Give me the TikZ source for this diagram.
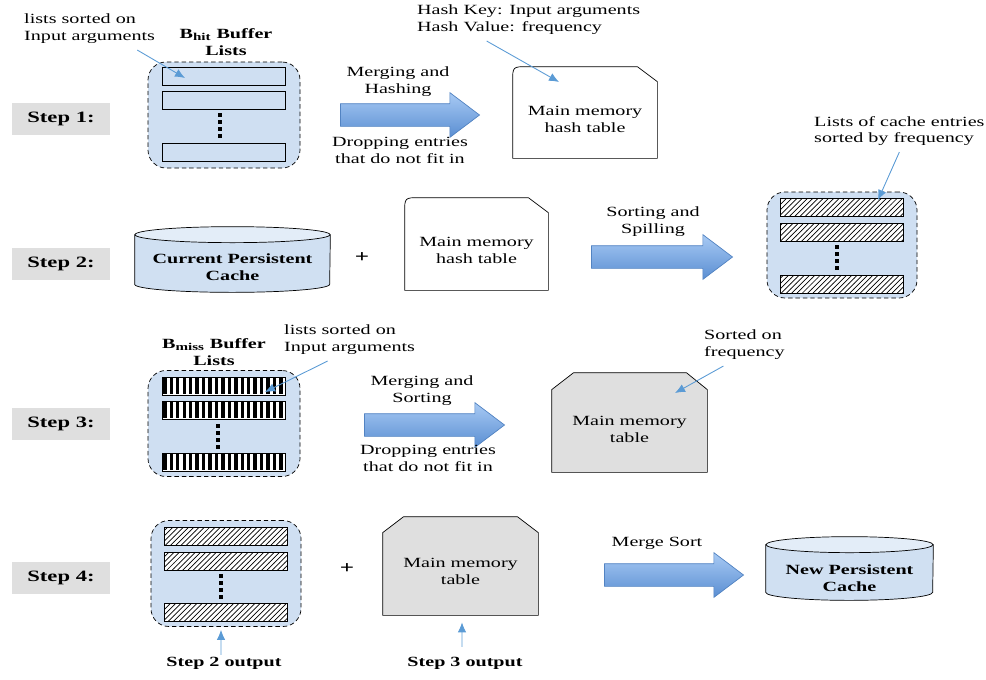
\documentclass[tikz,border=0pt]{standalone}
\usepackage{fontspec}
\setmainfont{Liberation Serif}[FakeStretch=1.43]
\usetikzlibrary{shapes.arrows, arrows.meta, calc, patterns, positioning}

\definecolor{bufblue}{HTML}{CFDFF2}
\definecolor{cacheblue}{HTML}{D0E0F2}
\definecolor{cachetop}{HTML}{E3EDF8}
\definecolor{tblgray}{HTML}{DFDFDF}
\definecolor{arrowtop}{HTML}{A8CAF4}
\definecolor{arrowbot}{HTML}{5A8ED2}
\definecolor{arrowline}{HTML}{5283C2}
\definecolor{callblue}{HTML}{5B9BD5}

\tikzstyle{steplbl} = [rectangle, minimum width=1.96cm, minimum height=0.64cm, fill=tblgray, font=\fontsize{9}{11}\selectfont\bfseries]
\tikzstyle{buffer} = [rectangle, rounded corners=0.36cm, draw=black, dash pattern=on 2.5pt off 1.7pt, fill=bufblue, minimum width=3.04cm, minimum height=2.12cm]
\tikzstyle{bar} = [rectangle, draw=black, minimum width=2.46cm, minimum height=0.36cm, inner sep=0pt]
\tikzstyle{hbar} = [bar, fill=white, postaction={pattern=north east lines}]
\tikzstyle{dotline} = [line width=0.07cm, dash pattern=on 0.08cm off 0.06cm]
\tikzstyle{cachebody} = [rectangle, inner sep=0pt]
\tikzstyle{bigarrow} = [single arrow, draw=arrowline, top color=arrowtop, bottom color=arrowbot, inner xsep=0pt, inner ysep=0.22cm, single arrow head extend=0.22cm, single arrow tip angle=74]
\tikzstyle{callout} = [draw=callblue, line width=0.5pt, -{Latex[length=0.2cm,width=0.17cm]}]
\tikzstyle{note} = [align=left, anchor=west]
\tikzstyle{txt} = [align=center]
\tikzstyle{boldtxt} = [align=center, font=\fontsize{8}{9.6}\selectfont\bfseries]

\begin{document}
\begin{tikzpicture}[x=0.2mm, y=-0.2mm, font=\fontsize{8}{9.6}\selectfont]
    \useasboundingbox (0,0) rectangle (986,679);

    \node (step1) [steplbl] at (61,119) {Step 1:};
    \node (step2) [steplbl] at (61,264) {Step 2:};
    \node (step3) [steplbl] at (61,424) {Step 3:};
    \node (step4) [steplbl] at (61,578) {Step 4:};

    % step 1: hit buffer -> hash table
    \node (hitbuf) [buffer] at (224,115) {};
    \node (hittitle) [boldtxt] at (226,42) {B\textsubscript{hit} Buffer\\Lists};
    \node (hit1) [bar, fill=bufblue] at (224,76) {};
    \node (hit2) [bar, fill=bufblue] at (224,100) {};
    \node (hit3) [bar, fill=bufblue] at (224,152) {};
    \draw [dotline] (220,113) -- (220,138);
    \node (hitnote) [note] at (18,29) {lists sorted on\\Input arguments};
    \draw [callout] ([xshift=-0.48cm]hitnote.south east) -- ([xshift=-0.78cm,yshift=-0.04cm]hit1.center);

    \node (mergeA) [bigarrow, minimum height=2.78cm] at (402.5,115) {};
    \node (mergeAtop) [txt] at (398,82) {Merging and\\Hashing};
    \node (mergeAbot) [txt] at (400,150) {Dropping entries\\that do not fit in};

    \node (hashA) [minimum width=2.88cm, minimum height=1.82cm] at (585,112.5) {};
    \draw [fill=white] (hashA.south west) -- ([yshift=-0.3cm]hashA.north west) .. controls (hashA.north west) .. ([xshift=0.3cm]hashA.north west)
        -- ([xshift=-0.4cm]hashA.north east) -- ([yshift=-0.3cm]hashA.north east) -- (hashA.south east) -- cycle;
    \node (hashAtxt) [txt] at ([yshift=-0.13cm]hashA.center) {Main memory\\hash table};
    \node (hashnote) [note] at (411,20) {Hash Key: Input arguments\\Hash Value: frequency};
    \draw [callout] ([xshift=-0.84cm]hashnote.south) -- ([xshift=-0.52cm,yshift=0.61cm]hashA.center);

    % step 2: persistent cache + hash table -> sorted lists
    \node (cacheA) [cachebody, minimum width=3.9cm, minimum height=0.98cm] at (232.5,259.5) {};
    \filldraw [fill=cacheblue] (cacheA.north west) -- (cacheA.south west) arc[start angle=180, end angle=0, x radius=97.5, y radius=8]
        -- (cacheA.north east) -- cycle;
    \filldraw [fill=cachetop] (cacheA.north) ellipse [x radius=97.5, y radius=8];
    \node (cacheAtxt) [boldtxt] at ([yshift=-0.16cm]cacheA.center) {Current Persistent\\Cache};
    \node (plusA) [font=\fontsize{10}{12}\selectfont\bfseries] at (362,258) {+};

    \node (hashB) [minimum width=2.86cm, minimum height=1.84cm] at (476.5,244) {};
    \draw [fill=white] (hashB.south west) -- ([yshift=-0.3cm]hashB.north west) .. controls (hashB.north west) .. ([xshift=0.3cm]hashB.north west)
        -- ([xshift=-0.4cm]hashB.north east) -- ([yshift=-0.3cm]hashB.north east) -- (hashB.south east) -- cycle;
    \node (hashBtxt) [txt] at ([yshift=-0.13cm]hashB.center) {Main memory\\hash table};

    \node (sortA) [bigarrow, minimum height=2.82cm] at (654.5,257) {};
    \node (sortAtop) [txt] at (653,222) {Sorting and\\Spilling};

    \node (spillbuf) [buffer, minimum width=3.0cm] at (842,245) {};
    \node (spill1) [hbar] at (841.5,207.5) {};
    \node (spill2) [hbar] at (841.5,232) {};
    \node (spill3) [hbar] at (841.5,284) {};
    \draw [dotline] (837,245) -- (837,270);
    \node (spillnote) [note] at (808,131) {Lists of cache entries\\sorted by frequency};
    \draw [callout] (spillnote.south) -- ([xshift=0.73cm,yshift=0.15cm]spill1.center);

    % step 3: miss buffer -> table
    \node (missbuf) [buffer] at (224,423.5) {};
    \node (misstitle) [boldtxt] at (214,352) {B\textsubscript{miss} Buffer\\Lists};
    \node (miss1) [bar, fill=white] at (223.5,386) {};
    \node (miss2) [bar, fill=white] at (223.5,410) {};
    \node (miss3) [bar, fill=white] at (223.5,462) {};
    \foreach \b in {miss1,miss2,miss3}
        \foreach \i in {0,...,18}
            \fill ($(\b.south west)+(1.5+\i*6.45,-1)$) rectangle +(3.4,-16);
    \draw [dotline] (218,424) -- (218,449);
    \node (missnote) [note] at (278,340) {lists sorted on\\Input arguments};
    \draw [callout] ([xshift=-0.44cm]missnote.south) -- ([xshift=0.83cm,yshift=-0.12cm]miss1.center);

    \node (mergeB) [bigarrow, minimum height=2.8cm] at (427,425) {};
    \node (mergeBtop) [txt] at (422,391) {Merging and\\Sorting};
    \node (mergeBbot) [txt] at (428,458) {Dropping entries\\that do not fit in};

    \node (tableA) [minimum width=3.1cm, minimum height=1.98cm] at (629.5,422.5) {};
    \draw [fill=tblgray] (tableA.south west) -- ([yshift=-0.34cm]tableA.north west) -- ([xshift=0.44cm]tableA.north west)
        -- ([xshift=-0.42cm]tableA.north east) -- ([yshift=-0.34cm]tableA.north east) -- (tableA.south east) -- cycle;
    \node (tableAtxt) [txt] at ([yshift=-0.13cm]tableA.center) {Main memory\\table};
    \node (sortednote) [note] at (698,345) {Sorted on\\frequency};
    \draw [callout] ([xshift=-0.42cm]sortednote.south) -- ([xshift=0.91cm,yshift=0.59cm]tableA.center);

    % step 4: merge both into the new cache
    \node (outbuf) [buffer, minimum width=3.0cm] at (226,573.5) {};
    \node (out1) [hbar] at (226,536.5) {};
    \node (out2) [hbar] at (226,561) {};
    \node (out3) [hbar] at (226,612.5) {};
    \draw [dotline] (221,574) -- (221,599);
    \node (out2lbl) [boldtxt, inner sep=1pt] at (224,663) {Step 2 output};
    \draw [callout] ([xshift=-0.06cm]out2lbl.north) -- ([xshift=-0.1cm,yshift=-0.06cm]outbuf.south);

    \node (plusB) [font=\fontsize{10}{12}\selectfont\bfseries] at (347,569) {+};

    \node (tableB) [minimum width=3.1cm, minimum height=1.96cm] at (460.5,566) {};
    \draw [fill=tblgray] (tableB.south west) -- ([yshift=-0.32cm]tableB.north west) -- ([xshift=0.42cm]tableB.north west)
        -- ([xshift=-0.42cm]tableB.north east) -- ([yshift=-0.32cm]tableB.north east) -- (tableB.south east) -- cycle;
    \node (tableBtxt) [txt] at ([yshift=-0.1cm]tableB.center) {Main memory\\table};
    \node (out3lbl) [boldtxt, inner sep=1pt] at (465,663) {Step 3 output};
    \draw [callout] ([xshift=-0.06cm,yshift=0.16cm]out3lbl.north) -- ([xshift=0.03cm,yshift=-0.14cm]tableB.south);

    \node (mergeC) [bigarrow, minimum height=2.78cm] at (666.5,575) {};
    \node (mergeClbl) [txt] at (657,543) {Merge Sort};
    \node (cacheB) [cachebody, minimum width=3.34cm, minimum height=0.94cm] at (849.5,568.5) {};
    \filldraw [fill=cacheblue] (cacheB.north west) -- (cacheB.south west) arc[start angle=180, end angle=0, x radius=83.5, y radius=8]
        -- (cacheB.north east) -- cycle;
    \filldraw [fill=cachetop] (cacheB.north) ellipse [x radius=83.5, y radius=8];
    \node (cacheBtxt) [boldtxt] at ([yshift=-0.19cm]cacheB.center) {New Persistent\\Cache};
\end{tikzpicture}
\end{document}
